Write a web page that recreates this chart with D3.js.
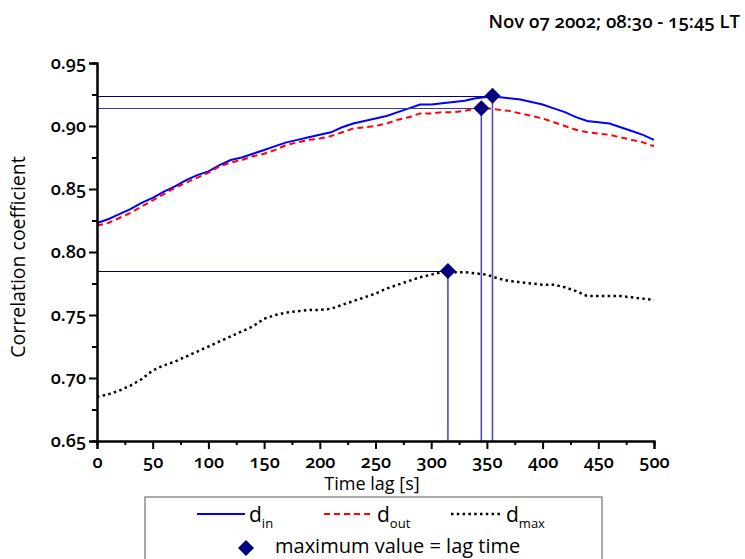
<!DOCTYPE html>
<html>
<head>
<meta charset="utf-8">
<script src="https://cdn.jsdelivr.net/npm/d3@7"></script>
<style>
  body { margin: 0; background: #fff; }
  svg { display: block; }
  text { font-family: "Open Sans", "DejaVu Sans", sans-serif; font-variant-numeric: oldstyle-nums; fill: #000; }
</style>
</head>
<body>
<svg id="chart" width="745" height="559"></svg>
<script>
// ---------- data ----------
const lags = [0,10,20,30,40,50,60,70,80,90,100,110,120,130,140,150,160,170,180,190,200,
  210,220,230,240,250,260,270,280,290,300,310,320,330,340,350,360,370,380,390,400,
  410,420,430,440,450,460,470,480,490,500];
const dIn = [0.823,0.826,0.830,0.834,0.839,0.843,0.848,0.852,0.857,0.861,0.864,
  0.869,0.873,0.875,0.878,0.881,0.884,0.887,0.889,0.891,0.893,
  0.895,0.899,0.902,0.904,0.906,0.908,0.911,0.914,0.917,0.917,
  0.918,0.919,0.920,0.922,0.923,0.923,0.922,0.921,0.919,0.917,
  0.914,0.911,0.907,0.904,0.903,0.902,0.899,0.896,0.893,0.889];
const dOut = [0.821,0.823,0.827,0.831,0.836,0.841,0.846,0.851,0.855,0.859,0.863,
  0.868,0.871,0.873,0.876,0.878,0.881,0.885,0.887,0.889,0.890,
  0.892,0.895,0.898,0.899,0.900,0.902,0.905,0.907,0.910,0.910,
  0.911,0.911,0.912,0.914,0.914,0.913,0.912,0.910,0.908,0.906,
  0.903,0.900,0.897,0.895,0.894,0.893,0.891,0.889,0.887,0.884];
const dMax = [0.685,0.687,0.690,0.694,0.699,0.706,0.710,0.713,0.717,0.721,0.725,
  0.729,0.733,0.737,0.741,0.747,0.750,0.752,0.753,0.754,0.754,
  0.755,0.758,0.761,0.764,0.767,0.771,0.774,0.777,0.780,0.782,
  0.784,0.784,0.784,0.783,0.782,0.779,0.777,0.776,0.775,0.774,
  0.774,0.772,0.769,0.765,0.765,0.765,0.765,0.764,0.763,0.762];
// maxima (lag time, value) for d_in, d_out, d_max
const peakLags = [355, 345, 315];
const peakValues = [0.924, 0.914, 0.785];
const xTicks = [0,50,100,150,200,250,300,350,400,450,500];
const yTicks = [0.65,0.70,0.75,0.80,0.85,0.90,0.95];
const titleText = "Nov 07 2002; 08:30 - 15:45 LT";

// ---------- layout ----------
const svg = d3.select("#chart");
const mLeft = 97, mRight = 654, mTop = 63, mBottom = 441;
const x = d3.scaleLinear().domain([0, 500]).range([mLeft, mRight]);
const y = d3.scaleLinear().domain([0.65, 0.95]).range([mBottom, mTop]);

// title
svg.append("text").attr("x", 740).attr("y", 28).attr("text-anchor", "end")
  .attr("font-size", 18.5).attr("font-weight", 600).text(titleText);

// series
const line = d3.line().x((d, i) => x(lags[i])).y(d => y(d));
svg.append("path").datum(dIn).attr("d", line).attr("fill", "none")
  .attr("stroke", "#0000ff").attr("stroke-width", 2);
svg.append("path").datum(dOut).attr("d", line).attr("fill", "none")
  .attr("stroke", "#ff0000").attr("stroke-width", 2).attr("stroke-dasharray", "6,4");
svg.append("path").datum(dMax).attr("d", line).attr("fill", "none")
  .attr("stroke", "#000").attr("stroke-width", 2.5).attr("stroke-dasharray", "2.5,3.3");

// guide lines
const hColors = ["#000080", "#3a3a9a", "#000060"];
peakLags.forEach((lag, i) => {
  svg.append("line").attr("x1", x(0)).attr("x2", x(lag))
    .attr("y1", Math.round(y(peakValues[i])) + 0.5).attr("y2", Math.round(y(peakValues[i])) + 0.5)
    .attr("stroke", hColors[i]).attr("stroke-width", 1.2);
  svg.append("line").attr("x1", x(lag)).attr("x2", x(lag))
    .attr("y1", y(peakValues[i])).attr("y2", y(0.65))
    .attr("stroke", "#5050b0").attr("stroke-width", 1.6);
});

// axes
const xAxis = d3.axisBottom(x).tickValues(xTicks).tickSize(8).tickPadding(6).tickFormat(d3.format("d"));
const xMinor = d3.axisBottom(x).tickValues(d3.range(25, 500, 50)).tickSize(4).tickFormat("");
const yAxis = d3.axisLeft(y).tickValues(yTicks).tickSize(8).tickPadding(3).tickFormat(d3.format(".2f"));
const yMinor = d3.axisLeft(y).tickValues(d3.range(0.675, 0.95, 0.05)).tickSize(5).tickFormat("");

function styleAxis(g) {
  g.select(".domain").attr("stroke", "#000").attr("stroke-width", 2);
  g.selectAll(".tick line").attr("stroke", "#000").attr("stroke-width", 2);
  g.selectAll(".tick text").attr("font-size", 18).attr("font-weight", 600)
    .attr("font-family", "\"Open Sans\", sans-serif").attr("fill", "#000");
}
svg.append("g").attr("transform", `translate(0,${mBottom})`).call(xMinor).call(styleAxis);
svg.append("g").attr("transform", `translate(0,${mBottom})`).call(xAxis).call(styleAxis);
svg.append("g").attr("transform", `translate(${mLeft},0)`).call(yMinor).call(styleAxis);
svg.append("g").attr("transform", `translate(${mLeft},0)`).call(yAxis).call(styleAxis);

// markers
const diamondPath = d3.symbol().type(d3.symbolSquare).size(128)();
peakLags.forEach((lag, i) => {
  svg.append("path").attr("d", diamondPath)
    .attr("transform", `translate(${x(lag)},${y(peakValues[i])}) rotate(45)`)
    .attr("fill", "#000080");
});

// axis titles
svg.append("text").attr("x", 372).attr("y", 490).attr("text-anchor", "middle")
  .attr("font-size", 18).attr("font-weight", 500).text("Time lag [s]");
svg.append("text").attr("transform", "translate(25,257) rotate(-90)")
  .attr("text-anchor", "middle").attr("font-size", 19.5).attr("font-weight", 500)
  .text("Correlation coefficient");

// legend
svg.append("rect").attr("x", 145).attr("y", 497).attr("width", 457).attr("height", 80)
  .attr("fill", "none").attr("stroke", "#555").attr("stroke-width", 1);
const legendItems = [
  {x1: 197, x2: 245, color: "#0000ff", dash: null, w: 2, sub: "in"},
  {x1: 324, x2: 373, color: "#ff0000", dash: "6,4", w: 2, sub: "out"},
  {x1: 451, x2: 502, color: "#000", dash: "2.5,3.3", w: 2.5, sub: "max"}
];
legendItems.forEach(it => {
  const ln = svg.append("line").attr("x1", it.x1).attr("x2", it.x2).attr("y1", 514).attr("y2", 514)
    .attr("stroke", it.color).attr("stroke-width", it.w);
  if (it.dash) ln.attr("stroke-dasharray", it.dash);
  const t = svg.append("text").attr("x", it.x2 + 4).attr("y", 522).attr("font-size", 21).attr("font-weight", 500);
  t.append("tspan").text("d");
  t.append("tspan").attr("dy", 6).attr("font-size", 13).text(it.sub);
});
svg.append("path").attr("d", diamondPath)
  .attr("transform", "translate(246,548) rotate(45)").attr("fill", "#000080");
svg.append("text").attr("x", 275).attr("y", 553).attr("font-size", 20).attr("font-weight", 500)
  .text("maximum value = lag time");
</script>
</body>
</html>
